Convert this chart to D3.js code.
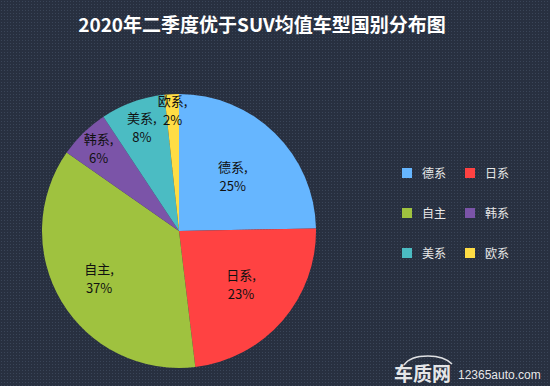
<!DOCTYPE html>
<html>
<head>
<meta charset="utf-8">
<script src="https://cdn.jsdelivr.net/npm/d3@7"></script>
<style>
  html, body { margin: 0; padding: 0; background: #2a3140; }
  svg { display: block; font-family: "Microsoft YaHei", "Noto Sans CJK SC", sans-serif; }
</style>
</head>
<body>
<div id="chart"></div>
<script>
// chart data
const categories = ['德系', '日系', '自主', '韩系', '美系', '欧系'];
const shares = [24.7, 23.4, 36.6, 6.0, 7.6, 1.7];
const colors = ['#66b6ff', '#ff4242', '#9fc23f', '#7b54a8', '#4bbcc3', '#ffdd45'];
const chartTitle = '2020年二季度优于SUV均值车型国别分布图';

// label distance from centre as a fraction of radius (excel "best fit")
const labelRadius = [0.56, 0.60, 0.68, 0.84, 0.80, 0.88];

function createSVGViewbox(containerId, width, height) {
    try {
        let svg = d3.select(containerId)
            .append('svg')
            .attr('width', width)
            .attr('height', height)
            .attr('viewBox', '0 0 ' + width + ' ' + height);
        return svg;
    } catch (error) {
        console.log('createSVGViewbox. Error: ' + error);
        return null;
    }
}

const W = 550, H = 386;
const svg = createSVGViewbox('#chart', W, H);

// dotted carbon-like background
const defs = svg.append('defs');
const pat = defs.append('pattern')
    .attr('id', 'bg')
    .attr('width', 3).attr('height', 3)
    .attr('patternUnits', 'userSpaceOnUse');
pat.append('rect').attr('width', 3).attr('height', 3).attr('fill', '#283040');
pat.append('rect').attr('x', 1).attr('y', 1).attr('width', 1).attr('height', 1).attr('fill', '#3a4558');
svg.append('rect').attr('width', W).attr('height', H).attr('fill', 'url(#bg)');

svg.append('text')
    .attr('x', 262).attr('y', 32)
    .attr('text-anchor', 'middle')
    .attr('fill', '#ffffff')
    .attr('font-size', 19)
    .attr('font-weight', 'bold')
    .text(chartTitle);

// pie
const cx = 179, cy = 231, r = 137;
const data = categories.map((c, i) => ({ name: c, value: shares[i], color: colors[i], lr: labelRadius[i] }));
const pie = d3.pie().sort(null).value(d => d.value);
const arc = d3.arc().innerRadius(0).outerRadius(r);
const arcs = pie(data);

const g = svg.append('g').attr('transform', 'translate(' + cx + ',' + cy + ')');
g.selectAll('path')
    .data(arcs).enter()
    .append('path')
    .attr('d', arc)
    .attr('fill', d => d.data.color);

const labels = g.selectAll('text.lbl')
    .data(arcs).enter()
    .append('text')
    .attr('class', 'lbl')
    .attr('text-anchor', 'middle')
    .attr('font-size', 13)
    .attr('fill', '#111111')
    .attr('transform', d => {
        let la = d3.arc().innerRadius(r * d.data.lr).outerRadius(r * d.data.lr);
        return 'translate(' + la.centroid(d) + ')';
    });
labels.append('tspan').attr('x', 0).attr('y', -4.5).text(d => d.data.name + ',');
labels.append('tspan').attr('x', 0).attr('y', 14.5).text(d => Math.round(d.data.value) + '%');

// legend
const legend = svg.append('g').attr('transform', 'translate(402,168)');
const items = legend.selectAll('g')
    .data(data).enter()
    .append('g')
    .attr('transform', (d, i) => 'translate(' + ((i % 2) * 63) + ',' + (Math.floor(i / 2) * 40) + ')');
items.append('rect')
    .attr('width', 10).attr('height', 10)
    .attr('fill', d => d.color);
items.append('text')
    .attr('x', 20).attr('y', 10)
    .attr('font-size', 12)
    .attr('fill', '#e8e8e8')
    .text(d => d.name);

// watermark
svg.append('path')
    .attr('d', 'M404,365 Q410,356 428,356 Q444,356 452,364')
    .attr('fill', 'none')
    .attr('stroke', '#ffffff')
    .attr('stroke-opacity', 0.85)
    .attr('stroke-width', 1.5);
svg.append('text')
    .attr('x', 394).attr('y', 381)
    .attr('font-size', 19)
    .attr('font-weight', 'bold')
    .attr('fill', '#ffffff')
    .attr('fill-opacity', 0.9)
    .text('车质网');
svg.append('text')
    .attr('x', 458).attr('y', 379)
    .attr('font-size', 12)
    .attr('font-family', 'Arial, "Liberation Sans", sans-serif')
    .attr('fill', '#ffffff')
    .attr('fill-opacity', 0.9)
    .text('12365auto.com');
</script>
</body>
</html>
